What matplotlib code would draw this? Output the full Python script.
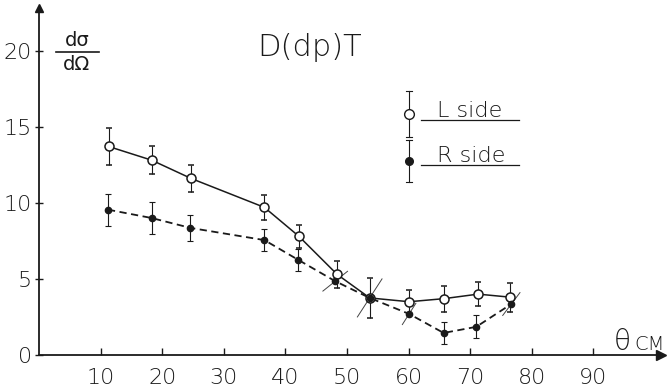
import numpy as np
import matplotlib
matplotlib.use("Agg")
import matplotlib.pyplot as plt
from matplotlib.lines import Line2D

# ---- data ----
theta_L = [11.3, 18.3, 24.7, 36.6, 42.2, 48.4, 53.7, 60.1, 65.7, 71.3, 76.5]
sigma_L = [13.7, 12.8, 11.6, 9.7, 7.8, 5.3, 3.75, 3.5, 3.7, 4.0, 3.8]
err_L = [1.2, 0.9, 0.9, 0.8, 0.75, 0.9, 1.3, 0.8, 0.85, 0.8, 0.95]

theta_R = [11.2, 18.3, 24.6, 36.6, 42.1, 48.1, 53.7, 60.1, 65.7, 71.0, 76.7]
sigma_R = [9.55, 9.0, 8.35, 7.55, 6.25, 4.85, 3.75, 2.7, 1.45, 1.85, 3.35]
err_R = [1.05, 1.05, 0.85, 0.7, 0.7, 0.65, 1.25, 0.7, 0.7, 0.75, 0.75]
# points whose R-side error bar is drawn tilted (half extent in theta)
tilt_R = [0, 0, 0, 0, 0, 2.0, 2.0, 1.1, 0, 0, 1.4]

x_ticks = [10, 20, 30, 40, 50, 60, 70, 80, 90]
y_ticks = [0, 5, 10, 15, 20]

title = "D(dp)T"
legend_labels = ["L side", "R side"]

FONT = "DejaVu Sans"
INK = "#1a1a1a"

fig = plt.figure(figsize=(6.7, 3.92), dpi=100)
ax = fig.add_axes([39 / 670, 37 / 392, 622 / 670, 347 / 392])
ax.set_xlim(0, 101)
ax.set_ylim(0, 22.8)

for s in ("top", "right"):
    ax.spines[s].set_visible(False)
for s in ("left", "bottom"):
    ax.spines[s].set_linewidth(1.3)
    ax.spines[s].set_color(INK)

# arrow heads
ax.plot(1, 0, marker=">", color=INK, ms=7, transform=ax.transAxes, clip_on=False)
ax.plot(0, 1, marker="^", color=INK, ms=6, transform=ax.transAxes, clip_on=False)

ax.set_xticks(x_ticks)
ax.set_yticks(y_ticks)
ax.set_xticklabels([str(v) for v in x_ticks], fontsize=16, family=FONT,
                   fontweight="light", color=INK)
ax.set_yticklabels([str(v) for v in y_ticks], fontsize=16, family=FONT,
                   fontweight="light", color=INK)
ax.tick_params(axis="x", direction="in", length=5, width=1, pad=9, colors=INK)
ax.tick_params(axis="y", direction="inout", length=6, width=1, pad=2, colors=INK)

# curves
ax.plot(theta_L, sigma_L, "-", color=INK, lw=1.1, zorder=2)
ax.plot(theta_R, sigma_R, "--", color=INK, lw=1.3, dashes=(4, 2.5), zorder=2)

# L side: open circles with vertical error bars
ax.errorbar(theta_L, sigma_L, yerr=err_L, fmt="o", mfc="white", mec=INK,
            mew=1.1, ms=6.5, ecolor=INK, elinewidth=0.8, capsize=2,
            capthick=0.8, zorder=4)

# R side: filled dots, vertical or tilted error bars
vx = [t for t, k in zip(theta_R, tilt_R) if k == 0]
vy = [s for s, k in zip(sigma_R, tilt_R) if k == 0]
ve = [e for e, k in zip(err_R, tilt_R) if k == 0]
ax.errorbar(vx, vy, yerr=ve, fmt="none", ecolor=INK, elinewidth=0.8,
            capsize=2, capthick=0.8, zorder=3)
for t, s, e, k in zip(theta_R, sigma_R, err_R, tilt_R):
    if k:
        ax.plot([t - k, t + k], [s - e, s + e], color="#444444", lw=0.7,
                zorder=3)
ax.plot(theta_R, sigma_R, "o", color=INK, ms=4.5, zorder=5)

# title
fig.text(310 / 670, 1 - 56 / 392, title, fontsize=22, family=FONT,
         fontweight="light", color=INK, ha="center", va="baseline")

# y label d sigma / d Omega
fig.text(77 / 670, 1 - 41 / 392, "dσ", fontsize=14, family=FONT,
         color=INK, ha="center", va="center")
fig.text(77 / 670, 1 - 65 / 392, "dΩ", fontsize=14, family=FONT,
         color=INK, ha="center", va="center")
fig.add_artist(Line2D([56 / 670, 99 / 670], [1 - 52 / 392, 1 - 52 / 392],
                      color=INK, lw=1.2))

# x label theta CM
fig.text(614 / 670, 1 - 350 / 392, "θ", fontsize=20, family=FONT,
         fontweight="light", color=INK, ha="left", va="baseline")
fig.text(634 / 670, 1 - 350 / 392, "CM", fontsize=14, family=FONT,
         fontweight="light", color=INK, ha="left", va="baseline")

# hand-drawn legend
leg_y = [114, 161]
leg_err = [23, 21]
leg_base = [117, 162]
for i, lab in enumerate(legend_labels):
    yc = 1 - leg_y[i] / 392
    yt = yc + leg_err[i] / 392
    yb = yc - leg_err[i] / 392
    xm = 409 / 670
    fig.add_artist(Line2D([xm, xm], [yb, yt], color=INK, lw=0.8))
    for yy in (yb, yt):
        fig.add_artist(Line2D([xm - 3 / 670, xm + 3 / 670], [yy, yy],
                              color=INK, lw=0.8))
    if i == 0:
        fig.add_artist(Line2D([xm], [yc], marker="o", ms=7, mfc="white",
                              mec=INK, mew=1.0, lw=0))
    else:
        fig.add_artist(Line2D([xm], [yc], marker="o", ms=5.5, mfc=INK,
                              mec=INK, lw=0))
    fig.text(437 / 670, 1 - leg_base[i] / 392, lab, fontsize=16, family=FONT,
             fontweight="light", color=INK, ha="left", va="baseline")
    fig.add_artist(Line2D([421 / 670, 519 / 670],
                          [1 - (leg_base[i] + 3) / 392] * 2, color=INK, lw=0.9))

fig.savefig("out.png", dpi=100, facecolor="white")
